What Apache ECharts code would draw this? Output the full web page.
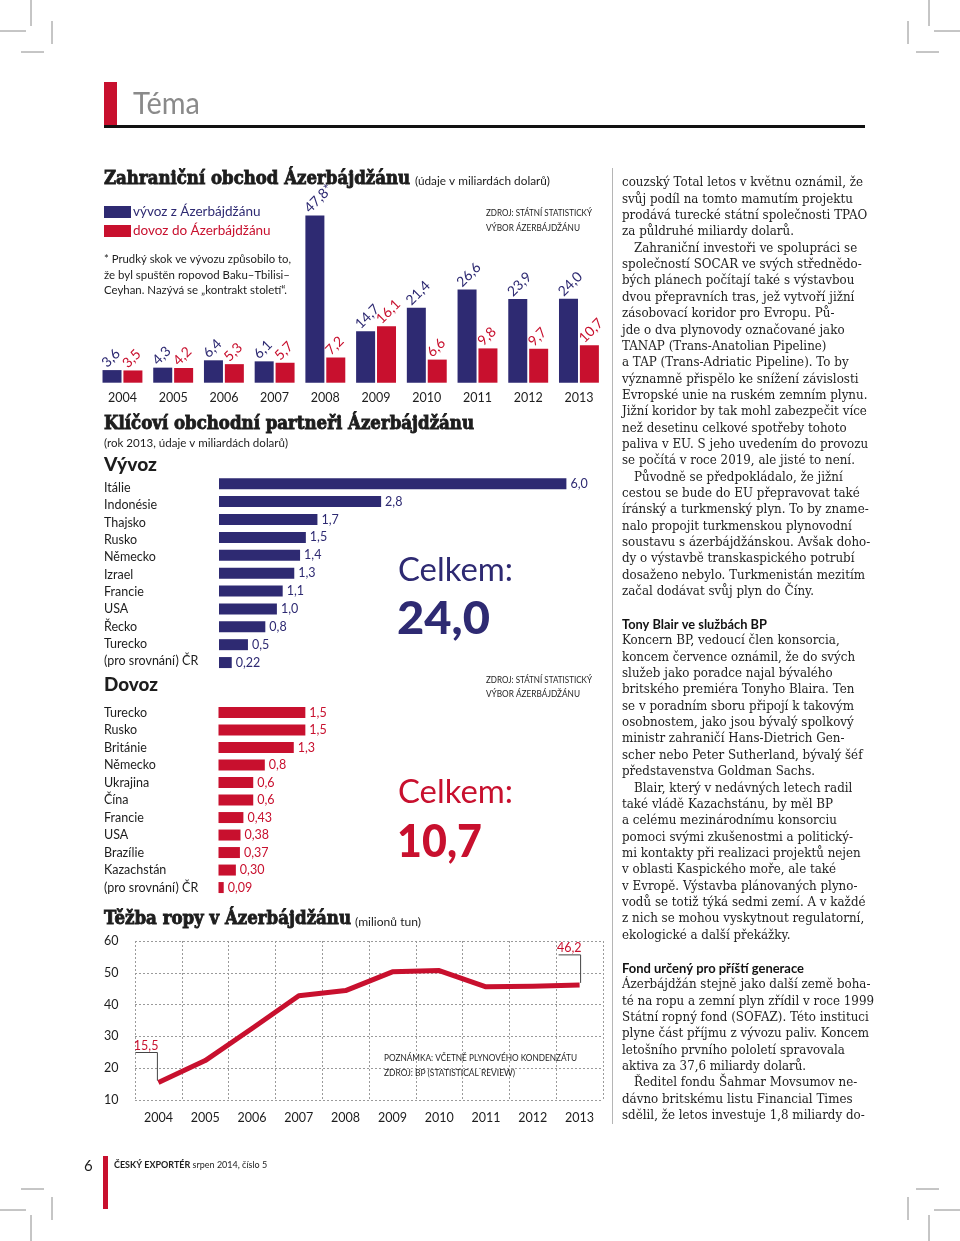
<!DOCTYPE html>
<html><head><meta charset="utf-8">
<script src="https://cdn.jsdelivr.net/npm/echarts@6/dist/echarts.min.js"></script>
<style>html,body{margin:0;padding:0;background:#fff}#c{width:960px;height:1241px}</style>
</head><body><div id="c"></div>
<script>
// ---------- DATA ----------
const years = ['2004','2005','2006','2007','2008','2009','2010','2011','2012','2013'];
const exportValues = [3.6, 4.3, 6.4, 6.1, 47.8, 14.7, 21.4, 26.6, 23.9, 24.0];
const exportNotes = ['', '', '', '', '*', '', '', '', '', ''];
const importValues = [3.5, 4.2, 5.3, 5.7, 7.2, 16.1, 6.6, 9.8, 9.7, 10.7];

const exportPartners = ['Itálie','Indonésie','Thajsko','Rusko','Německo','Izrael','Francie','USA','Řecko','Turecko','(pro srovnání) ČR'];
const exportPartnerValues = [6.0, 2.8, 1.7, 1.5, 1.4, 1.3, 1.1, 1.0, 0.8, 0.5, 0.22];
const exportPartnerLabels = ['6,0','2,8','1,7','1,5','1,4','1,3','1,1','1,0','0,8','0,5','0,22'];

const importPartners = ['Turecko','Rusko','Británie','Německo','Ukrajina','Čína','Francie','USA','Brazílie','Kazachstán','(pro srovnání) ČR'];
const importPartnerValues = [1.5, 1.5, 1.3, 0.8, 0.6, 0.6, 0.43, 0.38, 0.37, 0.30, 0.09];
const importPartnerLabels = ['1,5','1,5','1,3','0,8','0,6','0,6','0,43','0,38','0,37','0,30','0,09'];

const oilYears = ['2004','2005','2006','2007','2008','2009','2010','2011','2012','2013'];
const oilValues = [15.5, 22.4, 32.5, 42.8, 44.4, 50.3, 50.7, 45.6, 45.8, 46.2];
const oilLabels = ['15,5', '', '', '', '', '', '', '', '', '46,2'];

const exportTotal = '24,0';
const importTotal = '10,7';

// ---------- STYLE ----------
const BLUE = '#2e2a72', RED = '#c8102e', INK = '#1d1d1d', GRAY = '#8a8a8a';
const SANS = 'Lato, "Open Sans", sans-serif';
const SERIF = '"DejaVu Serif", serif';
const fmt = v => String(v.toFixed(1)).replace('.', ',');

const mctx = document.createElement('canvas').getContext('2d');
function measure(text, font) { mctx.font = font; return mctx.measureText(text).width; }
function fontOf(size, weight, family) { return `normal ${weight || 'normal'} ${size}px ${family || SANS}`; }
function T(x, y, text, size, o) {
  o = o || {};
  const font = fontOf(size, o.weight, o.family);
  let sx = o.sx || 1;
  if (o.w) sx = o.w / measure(text, font);
  const st = { text, font, fill: o.color || INK, align: o.align || 'left', verticalAlign: 'middle',
               textAlign: o.align || 'left', textVerticalAlign: 'middle' };
  if (o.stroke) { st.stroke = o.stroke; st.lineWidth = o.lw || 0.5; }
  return { type: 'text', x, y, scaleX: sx, silent: true, z: 100, style: st };
}
function L(x1, y1, x2, y2, c, w) { return { type: 'line', silent: true, z: 100, shape: { x1, y1, x2, y2 }, style: { stroke: c, lineWidth: w || 1 } }; }
function R(x, y, w, h, c) { return { type: 'rect', silent: true, z: 100, shape: { x, y, width: w, height: h }, style: { fill: c } }; }

const g = [];
// crop marks
const CM = '#8c8c8c';
[[0, 1], [960, -1]].forEach(([ox, s]) => {
  g.push(L(ox + s * 31, 0, ox + s * 31, 26, CM), L(ox, 31, ox + s * 26, 31, CM));
  g.push(L(ox + s * 52, 21, ox + s * 52, 44, CM), L(ox + s * 21, 52, ox + s * 44, 52, CM));
  g.push(L(ox + s * 31, 1215, ox + s * 31, 1241, CM), L(ox, 1210, ox + s * 26, 1210, CM));
  g.push(L(ox + s * 52, 1197, ox + s * 52, 1220, CM), L(ox + s * 21, 1189, ox + s * 44, 1189, CM));
});
// header
g.push(R(104, 82, 13, 44, RED), R(104, 125, 761, 3, '#111'));
g.push(T(133, 104, 'Téma', 30, { color: GRAY, w: 67 }));
// footer
g.push(T(84, 1166, '6', 15, { color: INK }), R(103, 1156, 5, 53, RED));
g.push({ type: 'text', x: 114, y: 1165, silent: true, z: 100,
  style: { text: '{b|ČESKÝ EXPORTÉR} srpen 2014, číslo 5', font: fontOf(9), fill: INK, verticalAlign: 'middle', textVerticalAlign: 'middle',
           rich: { b: { fontWeight: 'bold', fontSize: 9, fontFamily: SANS, fill: INK } } } });
// column separator
g.push(L(612.5, 168, 612.5, 1124, '#b5b5b5', 1));

// chart 1 texts
g.push(T(104, 179, 'Zahraniční obchod Ázerbájdžánu', 18, { family: SERIF, weight: 'bold', w: 306, stroke: INK, lw: 0.9 }));
g.push(T(415, 181, '(údaje v miliardách dolarů)', 12, { w: 135 }));
g.push(T(104, 259, '* Prudký skok ve vývozu způsobilo to,', 12, { w: 187 }));
g.push(T(104, 275, 'že byl spuštěn ropovod Baku–Tbilisi–', 12, { w: 186 }));
g.push(T(104, 290, 'Ceyhan. Nazývá se „kontrakt století“.', 12, { w: 183 }));
g.push(T(486, 213, 'ZDROJ: STÁTNÍ STATISTICKÝ', 8.5, { w: 106 }));
g.push(T(486, 228, 'VÝBOR ÁZERBÁJDŽÁNU', 8.5, { w: 94 }));

// chart 2 texts
g.push(T(104, 424, 'Klíčoví obchodní partneři Ázerbájdžánu', 18, { family: SERIF, weight: 'bold', w: 370, stroke: INK, lw: 0.9 }));
g.push(T(104, 443, '(rok 2013, údaje v miliardách dolarů)', 12, { w: 184 }));
g.push(T(104, 465, 'Vývoz', 18, { weight: 900, w: 53 }));
g.push(T(104, 685, 'Dovoz', 18, { weight: 900, w: 54 }));
g.push(T(398, 570, 'Celkem:', 33, { color: BLUE, w: 115 }));
g.push(T(397, 619, exportTotal, 46, { color: BLUE, weight: 900, w: 93 }));
g.push(T(398, 792, 'Celkem:', 33, { color: RED, w: 115 }));
g.push(T(397, 842, importTotal, 46, { color: RED, weight: 900, w: 85 }));
g.push(T(486, 680, 'ZDROJ: STÁTNÍ STATISTICKÝ', 8.5, { w: 106 }));
g.push(T(486, 694, 'VÝBOR ÁZERBÁJDŽÁNU', 8.5, { w: 94 }));

// chart 3 texts
g.push(T(104, 919, 'Těžba ropy v Ázerbájdžánu', 18, { family: SERIF, weight: 'bold', w: 247, stroke: INK, lw: 0.9 }));
g.push(T(355, 922, '(milionů tun)', 12, { w: 66 }));
g.push(T(384, 1058, 'POZNÁMKA: VČETNĚ PLYNOVÉHO KONDENZÁTU', 8.5, { w: 193 }));
g.push(T(384, 1073, 'ZDROJ: BP (STATISTICAL REVIEW)', 8.5, { w: 131 }));

// right column article
const bodyFont = fontOf(13, 'normal', SERIF);
const bodyScale = 241 / measure('couzský Total letos v květnu oznámil, že', bodyFont);
const col1 = [
  ['couzský Total letos v květnu oznámil, že', 0],
  ['svůj podíl na tomto mamutím projektu', 0],
  ['prodává turecké státní společnosti TPAO', 0],
  ['za půldruhé miliardy dolarů.', 0],
  ['Zahraniční investoři ve spolupráci se', 1],
  ['společností SOCAR ve svých střednědo-', 0],
  ['bých plánech počítají také s výstavbou', 0],
  ['dvou přepravních tras, jež vytvoří jižní', 0],
  ['zásobovací koridor pro Evropu. Pů-', 0],
  ['jde o dva plynovody označované jako', 0],
  ['TANAP (Trans-Anatolian Pipeline)', 0],
  ['a TAP (Trans-Adriatic Pipeline). To by', 0],
  ['významně přispělo ke snížení závislosti', 0],
  ['Evropské unie na ruském zemním plynu.', 0],
  ['Jižní koridor by tak mohl zabezpečit více', 0],
  ['než desetinu celkové spotřeby tohoto', 0],
  ['paliva v EU. S jeho uvedením do provozu', 0],
  ['se počítá v roce 2019, ale jisté to není.', 0],
  ['Původně se předpokládalo, že jižní', 1],
  ['cestou se bude do EU přepravovat také', 0],
  ['íránský a turkmenský plyn. To by zname-', 0],
  ['nalo propojit turkmenskou plynovodní', 0],
  ['soustavu s ázerbájdžánskou. Avšak doho-', 0],
  ['dy o výstavbě transkaspického potrubí', 0],
  ['dosaženo nebylo. Turkmenistán mezitím', 0],
  ['začal dodávat svůj plyn do Číny.', 0]
];
const col2 = [
  ['Koncern BP, vedoucí člen konsorcia,', 0],
  ['koncem července oznámil, že do svých', 0],
  ['služeb jako poradce najal bývalého', 0],
  ['britského premiéra Tonyho Blaira. Ten', 0],
  ['se v poradním sboru připojí k takovým', 0],
  ['osobnostem, jako jsou bývalý spolkový', 0],
  ['ministr zahraničí Hans-Dietrich Gen-', 0],
  ['scher nebo Peter Sutherland, bývalý šéf', 0],
  ['představenstva Goldman Sachs.', 0],
  ['Blair, který v nedávných letech radil', 1],
  ['také vládě Kazachstánu, by měl BP', 0],
  ['a celému mezinárodnímu konsorciu', 0],
  ['pomoci svými zkušenostmi a politický-', 0],
  ['mi kontakty při realizaci projektů nejen', 0],
  ['v oblasti Kaspického moře, ale také', 0],
  ['v Evropě. Výstavba plánovaných plyno-', 0],
  ['vodů se totiž týká sedmi zemí. A v každé', 0],
  ['z nich se mohou vyskytnout regulatorní,', 0],
  ['ekologické a další překážky.', 0]
];
const col3 = [
  ['Ázerbájdžán stejně jako další země boha-', 0],
  ['té na ropu a zemní plyn zřídil v roce 1999', 0],
  ['Státní ropný fond (SOFAZ). Této instituci', 0],
  ['plyne část příjmu z vývozu paliv. Koncem', 0],
  ['letošního prvního pololetí spravovala', 0],
  ['aktiva za 37,6 miliardy dolarů.', 0],
  ['Ředitel fondu Šahmar Movsumov ne-', 1],
  ['dávno britskému listu Financial Times', 0],
  ['sdělil, že letos investuje 1,8 miliardy do-', 0]
];
const LH = 16.35;
function body(lines, y0) {
  lines.forEach(([t, ind], i) => g.push(T(622 + (ind ? 12 : 0), y0 + i * LH, t, 13, { family: SERIF, sx: bodyScale, color: '#222' })));
}
body(col1, 183);
g.push(T(622, 624, 'Tony Blair ve službách BP', 14, { weight: 'bold', w: 145, color: '#111' }));
body(col2, 641);
g.push(T(622, 968, 'Fond určený pro příští generace', 14, { weight: 'bold', w: 182, color: '#111' }));
body(col3, 985);

// ---------- CHART ----------
const chart = echarts.init(document.getElementById('c'), null, { renderer: 'canvas', width: 960, height: 1241 });

const hideAxis = { axisLine: { show: false }, axisTick: { show: false }, splitLine: { show: false } };

const option = {
  animation: false,
  backgroundColor: '#fff',
  textStyle: { fontFamily: SANS },
  legend: {
    left: 104, top: 205, padding: 0, orient: 'vertical', itemWidth: 27, itemHeight: 12, itemGap: 5, icon: 'rect',
    selectedMode: false,
    textStyle: { fontFamily: SANS, fontSize: 13.5, padding: [0, 0, 0, -3] },
    data: [{ name: 'vývoz z Ázerbájdžánu', textStyle: { color: BLUE } },
           { name: 'dovoz do Ázerbájdžánu', textStyle: { color: RED } }]
  },
  grid: [
    { left: 97.1, width: 507.2, top: 172.7, height: 210 },
    { left: 219, width: 347.4, top: 474.8, height: 196.7 },
    { left: 218.5, width: 347.4, top: 703.8, height: 192.5 },
    { left: 135, width: 468, top: 941, height: 159 },
    { left: 219, width: 347.4, top: 479.3, height: 190.7 }   // row labels of the export list
  ],
  xAxis: [
    { gridIndex: 0, type: 'category', data: years, ...hideAxis,
      axisLabel: { margin: 9, fontSize: 12.5, color: INK, fontFamily: SANS } },
    { gridIndex: 1, type: 'value', min: 0, max: 6, show: false },
    { gridIndex: 2, type: 'value', min: 0, max: 6, show: false },
    { gridIndex: 3, type: 'category', data: oilYears, boundaryGap: true,
      axisLine: { show: false }, axisTick: { show: false },
      splitLine: { show: true, interval: 0, lineStyle: { type: [2, 2], color: '#9a9a9a', width: 1 } },
      axisLabel: { margin: 11, fontSize: 12.5, color: INK, fontFamily: SANS } },
    { gridIndex: 4, type: 'value', min: 0, max: 6, show: false }
  ],
  yAxis: [
    { gridIndex: 0, type: 'value', min: 0, max: 60, show: false },
    { gridIndex: 1, type: 'category', data: exportPartners, inverse: true, ...hideAxis, axisLabel: { show: false } },
    { gridIndex: 2, type: 'category', data: importPartners, inverse: true, ...hideAxis,
      axisLabel: { align: 'left', margin: 114.5, fontSize: 12.5, color: INK, fontFamily: SANS } },
    { gridIndex: 3, type: 'value', min: 10, max: 60, interval: 10,
      axisLine: { show: false }, axisTick: { show: false },
      splitLine: { show: true, lineStyle: { type: [2, 2], color: '#9a9a9a', width: 1 } },
      axisLabel: { align: 'left', margin: 31, fontSize: 12.5, color: INK, fontFamily: SANS } },
    { gridIndex: 4, type: 'category', data: exportPartners, inverse: true, ...hideAxis,
      axisLabel: { align: 'left', margin: 115, fontSize: 12.5, color: INK, fontFamily: SANS } }
  ],
  series: [
    { name: 'vývoz z Ázerbájdžánu', type: 'bar', xAxisIndex: 0, yAxisIndex: 0, data: exportValues,
      barWidth: 19, barGap: '10%', itemStyle: { color: BLUE },
      label: { show: true, rotate: 45, align: 'left', verticalAlign: 'middle', color: BLUE, fontSize: 14, fontFamily: SANS,
               formatter: p => fmt(p.value) + exportNotes[p.dataIndex] },
      labelLayout: p => ({ x: p.rect.x + p.rect.width / 2 - 8, y: p.rect.y - 5 }) },
    { name: 'dovoz do Ázerbájdžánu', type: 'bar', xAxisIndex: 0, yAxisIndex: 0, data: importValues,
      barWidth: 19, barGap: '10%', itemStyle: { color: RED },
      label: { show: true, rotate: 45, align: 'left', verticalAlign: 'middle', color: RED, fontSize: 14, fontFamily: SANS,
               formatter: p => fmt(p.value) },
      labelLayout: p => ({ x: p.rect.x + p.rect.width / 2 - 8, y: p.rect.y - 5 }) },
    { type: 'bar', xAxisIndex: 1, yAxisIndex: 1, data: exportPartnerValues, barWidth: 11, itemStyle: { color: BLUE },
      label: { show: true, position: 'right', distance: 4, color: BLUE, fontSize: 12.5, fontFamily: SANS,
               formatter: p => exportPartnerLabels[p.dataIndex] } },
    { type: 'bar', xAxisIndex: 2, yAxisIndex: 2, data: importPartnerValues, barWidth: 11, itemStyle: { color: RED },
      label: { show: true, position: 'right', distance: 4, color: RED, fontSize: 12.5, fontFamily: SANS,
               formatter: p => importPartnerLabels[p.dataIndex] } },
    { type: 'line', xAxisIndex: 3, yAxisIndex: 3, data: oilValues, symbol: 'none', z: 5,
      lineStyle: { color: RED, width: 5, join: 'round' }, itemStyle: { color: RED } }
  ],
  graphic: { elements: g }
};
chart.setOption(option);

// leader labels on the oil line, placed through the library's own scales
oilLabels.forEach((lab, i) => {
  if (!lab) return;
  const p = chart.convertToPixel({ seriesIndex: 4 }, [oilYears[i], oilValues[i]]);
  const xr = p[0] + (i === 0 ? -1 : 1);
  g.push(L(xr, p[1] - 30, xr, p[1] - 2, '#444', 1));
  g.push(L(xr - 22, p[1] - 30, xr, p[1] - 30, '#444', 1));
  g.push(T(xr + 1, p[1] - 37, lab, 12.5, { color: RED, align: 'right' }));
});
chart.setOption({ graphic: { elements: g } });
</script>
</body></html>
